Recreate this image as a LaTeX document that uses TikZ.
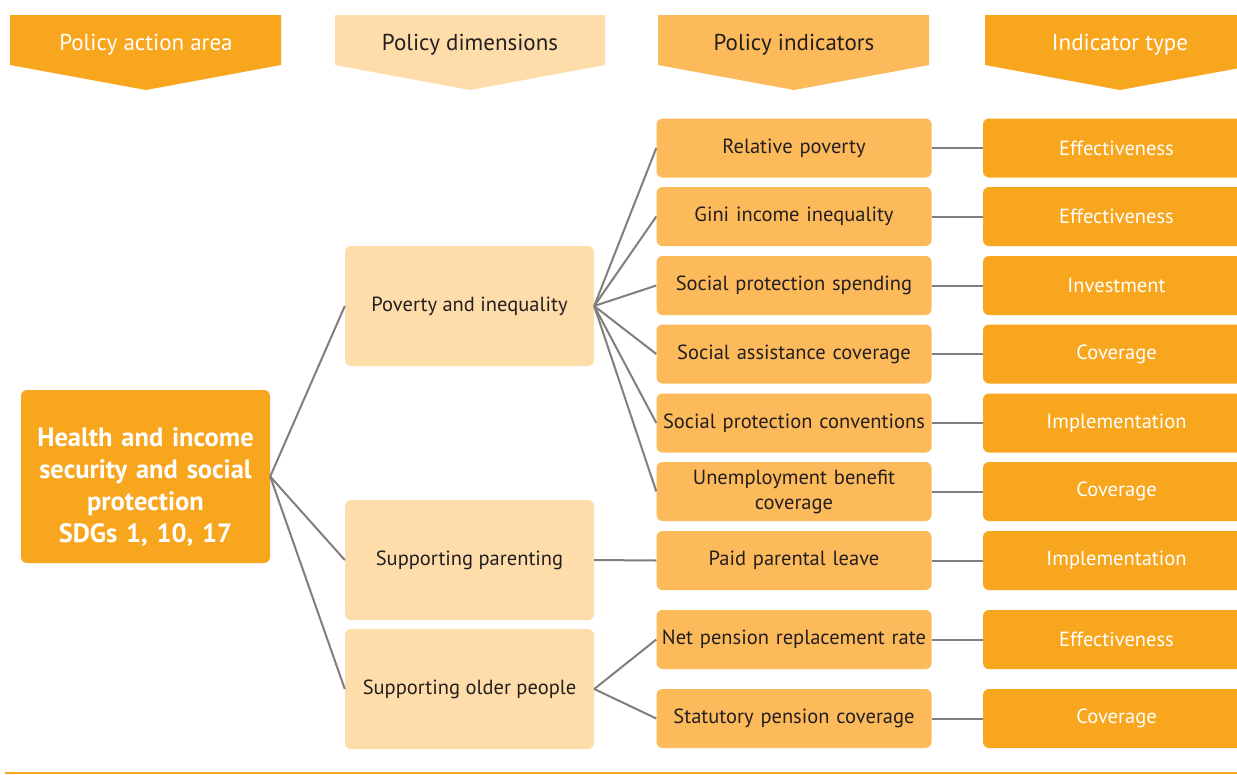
\documentclass[tikz,border=0pt]{standalone}
\usepackage{fontspec}
\setmainfont{PT Sans}
\definecolor{orng}{HTML}{F8A61E}
\definecolor{lite}{HTML}{FEDDAA}
\definecolor{midc}{HTML}{FDBA5A}
\definecolor{lnk}{HTML}{7F7F80}
\definecolor{ink}{HTML}{231F20}
\begin{document}
\begin{tikzpicture}[x=1pt,y=-1pt,
  box/.style={rounded corners=6pt,inner sep=0pt,align=center,font=\fontsize{20.5}{25}\selectfont},
  mainbox/.style={box,fill=orng,minimum width=249pt,minimum height=173pt},
  maintxt/.style={inner sep=0pt,align=center,text=white,text width=245pt,font=\fontsize{26.5}{32}\selectfont\bfseries},
  dimbox/.style={box,fill=lite,text=ink,minimum width=249pt,minimum height=120pt},
  indbox/.style={box,fill=midc,text=ink,minimum width=275pt,minimum height=59pt,text width=272pt},
  typebox/.style={box,fill=orng,text=white,minimum width=267pt,minimum height=59pt},
  link/.style={draw=lnk,line width=2pt},
  headtxt/.style={inner sep=0pt,font=\fontsize{23}{25}\selectfont}]
\clip (0,0) rectangle (1237,774);
\fill[white] (0,0) rectangle (1237,774);
% headers
\fill[orng] (10,15) -- (281,15) -- (281,65) -- (146,90) -- (10,65) -- cycle;
\node[headtxt,text=white] (h1) at (146,45) {Policy action area};
\fill[lite] (335,15) -- (605,15) -- (605,65) -- (470,90) -- (335,65) -- cycle;
\node[headtxt,text=ink] (h2) at (470,45) {Policy dimensions};
\fill[midc] (658,15) -- (929,15) -- (929,65) -- (794,90) -- (658,65) -- cycle;
\node[headtxt,text=ink] (h3) at (794,45) {Policy indicators};
\fill[orng] (985,15) -- (1256,15) -- (1256,65) -- (1120,90) -- (985,65) -- cycle;
\node[headtxt,text=white] (h4) at (1120,45) {Indicator type};
% main
\node[mainbox] (main) at (145.5,476.5) {};
\node[maintxt] (mt) at ([yshift=-11pt]main.center) {Health and income\\security and social\\protection\\SDGs 1, 10, 17};
% dimensions
\node[dimbox] (pov) at (469.5,306) {Poverty and inequality};
\node[dimbox] (par) at (469.5,560) {Supporting parenting};
\node[dimbox] (old) at (469.5,689) {Supporting older people};
% indicators
\node[indbox] (i1) at (794,148) {Relative poverty};
\node[indbox] (i2) at (794,216.5) {Gini income inequality};
\node[indbox] (i3) at (794,285.5) {Social protection spending};
\node[indbox] (i4) at (794,354) {Social assistance coverage};
\node[indbox] (i5) at (794,423) {Social protection conventions};
\node[indbox] (i6) at (794,491.5) {Unemployment benefit\\coverage};
\node[indbox] (i7) at (794,560.5) {Paid parental leave};
\node[indbox] (i8) at (794,639.5) {Net pension replacement rate};
\node[indbox] (i9) at (794,718.5) {Statutory pension coverage};
% types
\node[typebox] (t1) at (1116.5,148) {Effectiveness};
\node[typebox] (t2) at (1116.5,216.5) {Effectiveness};
\node[typebox] (t3) at (1116.5,285.5) {Investment};
\node[typebox] (t4) at (1116.5,354) {Coverage};
\node[typebox] (t5) at (1116.5,423) {Implementation};
\node[typebox] (t6) at (1116.5,491.5) {Coverage};
\node[typebox] (t7) at (1116.5,560.5) {Implementation};
\node[typebox] (t8) at (1116.5,639.5) {Effectiveness};
\node[typebox] (t9) at (1116.5,718.5) {Coverage};
% links
\foreach \d in {pov,par,old} \draw[link] (main.east) -- (\d.west);
\foreach \i in {i1,i2,i3,i4,i5,i6} \draw[link] (pov.east) -- (\i.west);
\draw[link] (par.east) -- (i7.west);
\foreach \i in {i8,i9} \draw[link] (old.east) -- (\i.west);
\foreach \n in {1,...,9} \draw[link] (i\n.east) -- (t\n.west);
% bottom rule
\coordinate (bl) at (5,772.5);
\coordinate (br) at (1237,772.5);
\draw[orng,line width=2pt] (bl) -- (br);
\end{tikzpicture}
\end{document}
